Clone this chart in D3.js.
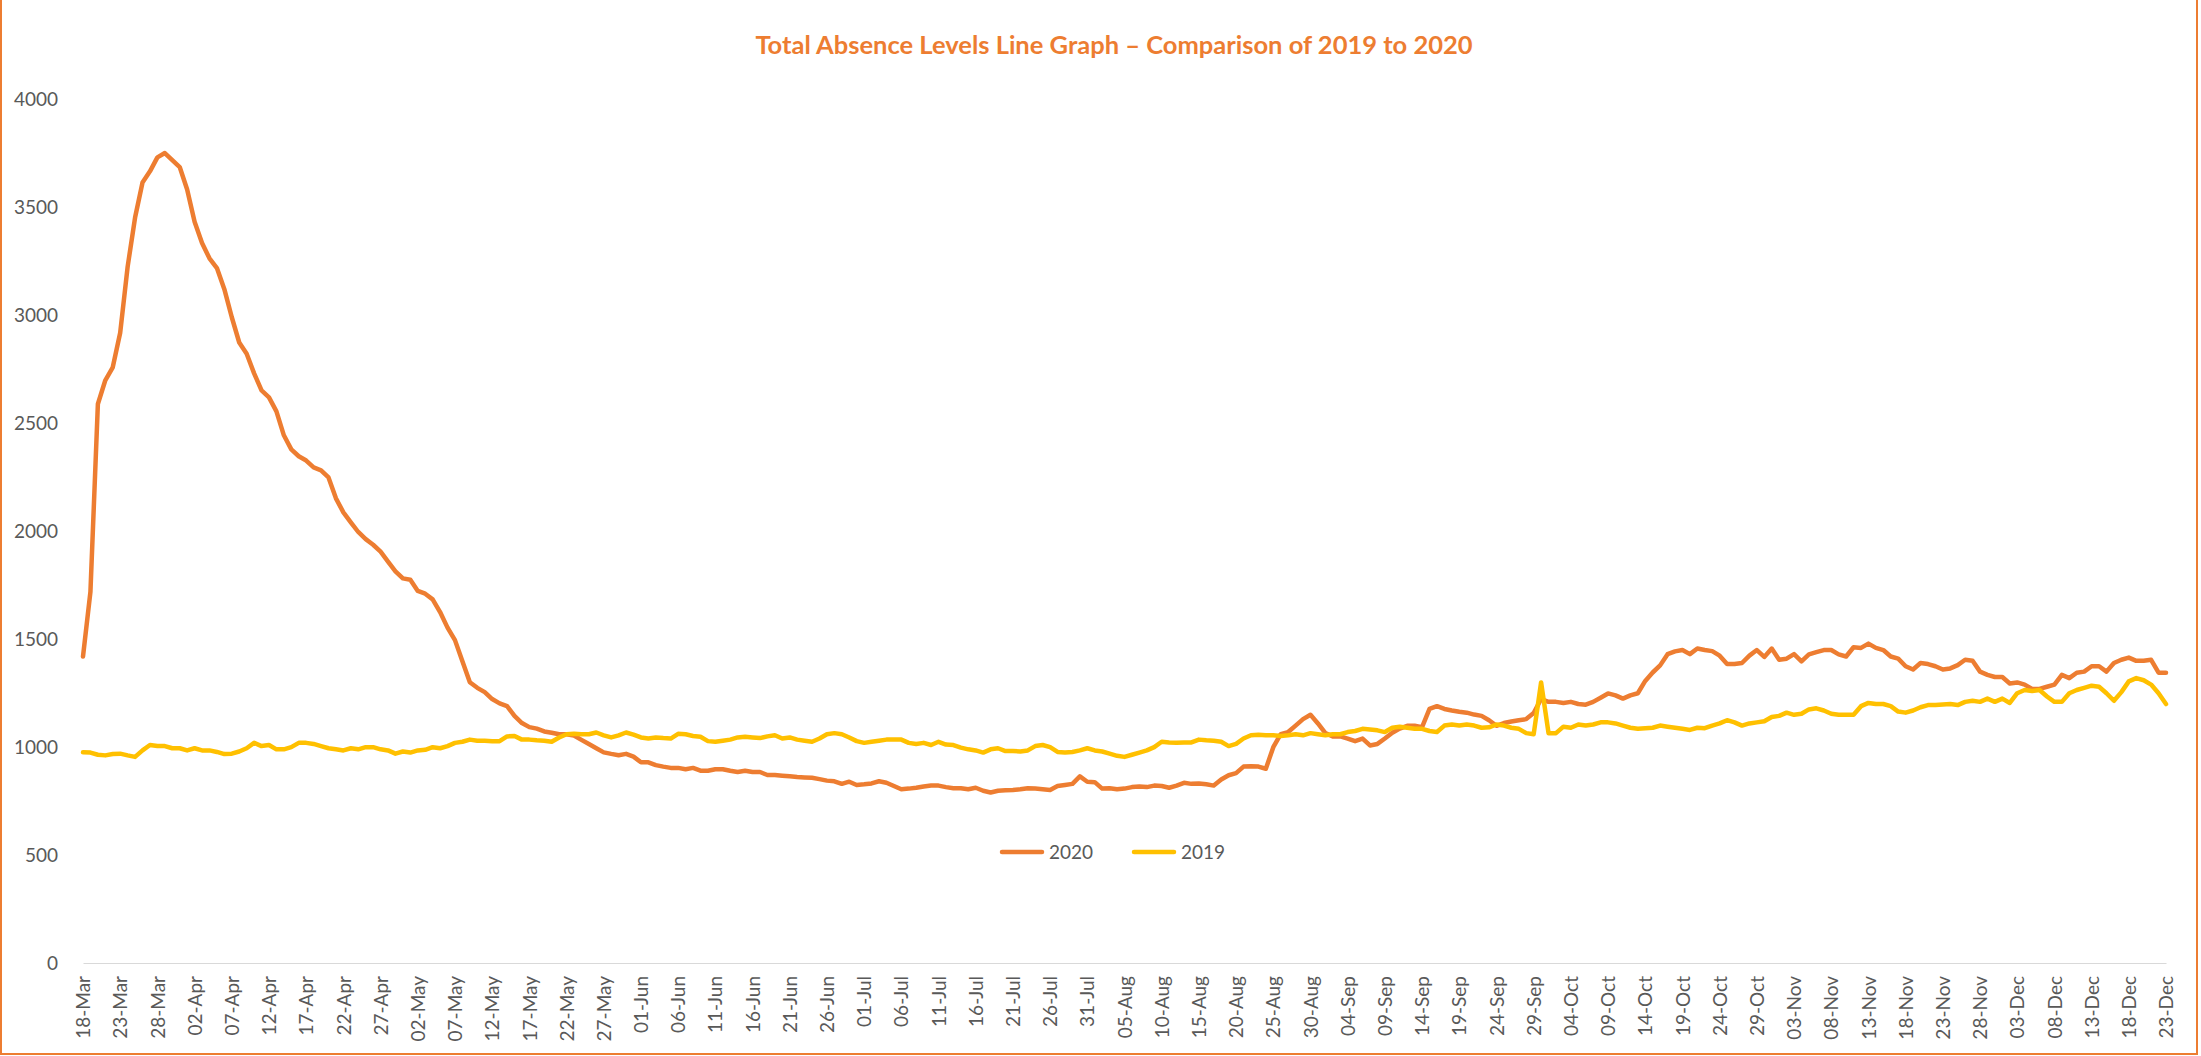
<!DOCTYPE html>
<html>
<head>
<meta charset="utf-8">
<script src="https://cdn.jsdelivr.net/npm/d3@7/dist/d3.min.js"></script>
<style>
  html, body { margin: 0; padding: 0; background: #fff; }
  svg { display: block; }
  text { font-family: Lato, "Liberation Sans", Arial, sans-serif; }
</style>
</head>
<body>
<svg id="chart" width="2201" height="1056"></svg>
<script>
// ---------- DATA ----------
const startDate = new Date(2020, 2, 18);
const endDate = new Date(2020, 11, 24);
const fmt = d3.timeFormat("%d-%b");
const categories = d3.timeDay.range(startDate, endDate).map(fmt); // 18-Mar .. 23-Dec

const tickLabels = ["18-Mar","23-Mar","28-Mar","02-Apr","07-Apr","12-Apr","17-Apr","22-Apr","27-Apr",
  "02-May","07-May","12-May","17-May","22-May","27-May","01-Jun","06-Jun","11-Jun","16-Jun","21-Jun","26-Jun",
  "01-Jul","06-Jul","11-Jul","16-Jul","21-Jul","26-Jul","31-Jul","05-Aug","10-Aug","15-Aug","20-Aug","25-Aug","30-Aug",
  "04-Sep","09-Sep","14-Sep","19-Sep","24-Sep","29-Sep","04-Oct","09-Oct","14-Oct","19-Oct","24-Oct","29-Oct",
  "03-Nov","08-Nov","13-Nov","18-Nov","23-Nov","28-Nov","03-Dec","08-Dec","13-Dec","18-Dec","23-Dec"];

const yTicks = [0, 500, 1000, 1500, 2000, 2500, 3000, 3500, 4000];

const series2020 = [
  1420,1720,2590,2700,2760,   2920,3226,3454,3616,3668,   3733,3753,3720,3688,3584,
  3434,3336,3265,3220,3122,   2992,2875,2823,2732,2653,   2621,2556,2445,2380,2348,
  2328,2296,2283,2250,2153,   2088,2042,1997,1964,1938,   1906,1860,1815,1782,1776,
  1724,1711,1685,1626,1554,   1496,1398,1301,1275,1255,   1223,1203,1190,1145,1112,
  1093,1086,1073,1067,1060,   1060,1054,1034,1015,995,    976,969,963,969,956,
  930,930,917,910,904,        904,898,904,891,891,        898,898,891,885,891,
  885,885,871,871,868,        865,862,860,858,852,        845,842,830,840,825,
  828,832,842,835,820,        805,808,812,818,822,        822,815,810,810,805,
  812,798,790,798,800,        802,805,810,808,805,        802,820,825,830,865,
  840,838,808,810,805,        808,815,818,815,822,        820,812,822,835,830,
  832,828,822,850,870,        880,910,912,910,900,        1000,1060,1070,1100,1130,
  1150,1110,1065,1050,1050,   1040,1028,1040,1008,1015,   1040,1067,1086,1099,1099,
  1093,1177,1190,1177,1170,   1164,1160,1151,1145,1125,   1099,1112,1119,1125,1130,
  1158,1223,1210,1210,1205,   1210,1200,1197,1210,1229,   1249,1240,1225,1240,1250,
  1307,1346,1379,1431,1444,   1450,1431,1457,1450,1445,   1424,1385,1385,1390,1424,
  1450,1418,1457,1405,1410,   1431,1398,1430,1440,1450,   1450,1430,1420,1463,1460,
  1480,1460,1450,1420,1410,   1375,1360,1390,1385,1375,   1360,1365,1380,1405,1400,
  1350,1335,1325,1325,1295,   1300,1290,1270,1270,1280,   1290,1335,1320,1345,1350,
  1375,1375,1350,1390,1405,   1415,1400,1400,1405,1345,   1345
];

const series2019 = [
  976,975,965,962,968,        970,962,955,985,1010,       1005,1005,995,995,985,
  995,985,985,978,968,        970,980,995,1020,1005,      1010,990,990,1000,1020,
  1020,1015,1005,995,990,     985,995,990,1000,1000,      990,985,970,980,975,
  985,988,1000,995,1005,      1020,1025,1035,1030,1030,   1028,1028,1050,1052,1035,
  1035,1032,1030,1025,1045,   1060,1062,1060,1060,1068,   1055,1045,1055,1068,1058,
  1045,1040,1045,1042,1040,   1062,1060,1052,1048,1028,   1025,1030,1035,1045,1048,
  1045,1042,1050,1055,1040,   1045,1035,1030,1025,1040,   1060,1065,1060,1045,1028,
  1020,1025,1030,1035,1035,   1035,1020,1015,1020,1010,   1025,1012,1010,998,990,
  985,975,990,995,982,        982,980,985,1005,1010,      1000,978,975,978,985,
  995,985,980,970,960,        955,965,975,985,1000,       1025,1022,1020,1022,1022,
  1035,1032,1030,1025,1005,   1015,1040,1055,1058,1055,   1055,1052,1055,1060,1055,
  1065,1060,1055,1060,1060,   1070,1075,1085,1082,1078,   1070,1090,1095,1090,1085,
  1085,1075,1070,1100,1105,   1100,1105,1100,1090,1092,   1105,1100,1090,1085,1065,
  1060,1300,1065,1065,1095,   1090,1105,1100,1105,1115,   1115,1110,1100,1090,1085,
  1088,1090,1100,1095,1090,   1085,1080,1090,1088,1100,   1110,1125,1115,1100,1110,
  1115,1120,1140,1145,1160,   1150,1155,1175,1180,1170,   1155,1150,1150,1150,1190,
  1205,1200,1200,1190,1165,   1160,1170,1185,1195,1195,   1198,1200,1195,1210,1215,
  1210,1225,1210,1225,1205,   1250,1265,1260,1265,1235,   1210,1210,1250,1265,1275,
  1285,1280,1250,1215,1255,   1305,1320,1310,1290,1250,   1200
];

const seriesNames = ["2020", "2019"];
const seriesColors = ["#ED7D31", "#FFC000"];
const title = "Total Absence Levels Line Graph \u2013 Comparison of 2019 to 2020";

// ---------- CHART ----------
const W = 2201, H = 1056;
const svg = d3.select("#chart");

// outer border
svg.append("rect")
  .attr("x", 1).attr("y", -4).attr("width", W - 5).attr("height", H + 2)
  .attr("fill", "none").attr("stroke", "#ED7D31").attr("stroke-width", 2);

const x = d3.scalePoint().domain(categories).range([83, 2166]).padding(0);
const y = d3.scaleLinear().domain([0, 4000]).range([963, 99.7]);

// x axis
const xAxis = svg.append("g")
  .attr("transform", `translate(0,${y(0)})`)
  .call(d3.axisBottom(x).tickValues(tickLabels).tickSize(0).tickPadding(0));
xAxis.select(".domain").attr("stroke", "#D9D9D9").attr("stroke-width", 1);
xAxis.selectAll("text")
  .attr("font-size", 19)
  .attr("fill", "#595959")
  .attr("text-anchor", "end")
  .attr("transform", "translate(0,13) rotate(-90)")
  .attr("x", 0).attr("y", 0).attr("dy", "0.35em");

// y axis
const yAxis = svg.append("g")
  .attr("transform", `translate(83,0)`)
  .call(d3.axisLeft(y).tickValues(yTicks).tickFormat(d3.format("d")).tickSize(0).tickPadding(25));
yAxis.select(".domain").remove();
yAxis.selectAll("text")
  .attr("font-size", 19)
  .attr("fill", "#595959");

// lines
const line = d3.line()
  .x((d, i) => x(categories[i]))
  .y(d => y(d));

svg.append("path").datum(series2020)
  .attr("d", line).attr("fill", "none")
  .attr("stroke", seriesColors[0]).attr("stroke-width", 4.5)
  .attr("stroke-linejoin", "round").attr("stroke-linecap", "round");
svg.append("path").datum(series2019)
  .attr("d", line).attr("fill", "none")
  .attr("stroke", seriesColors[1]).attr("stroke-width", 4.5)
  .attr("stroke-linejoin", "round").attr("stroke-linecap", "round");

// title
svg.append("text")
  .attr("x", 1114).attr("y", 54)
  .attr("text-anchor", "middle")
  .attr("font-size", 25.5).attr("font-weight", "bold")
  .attr("fill", "#ED7D31")
  .text(title);

// legend
const legend = svg.append("g").attr("transform", "translate(0,852)");
const legendItems = [
  { name: seriesNames[0], color: seriesColors[0], x0: 1002 },
  { name: seriesNames[1], color: seriesColors[1], x0: 1134 }
];
legendItems.forEach(it => {
  legend.append("line")
    .attr("x1", it.x0).attr("x2", it.x0 + 40).attr("y1", 0).attr("y2", 0)
    .attr("stroke", it.color).attr("stroke-width", 4.5).attr("stroke-linecap", "round");
  legend.append("text")
    .attr("x", it.x0 + 47).attr("y", 0).attr("dy", "0.35em")
    .attr("font-size", 19).attr("fill", "#595959")
    .text(it.name);
});
</script>
</body>
</html>
